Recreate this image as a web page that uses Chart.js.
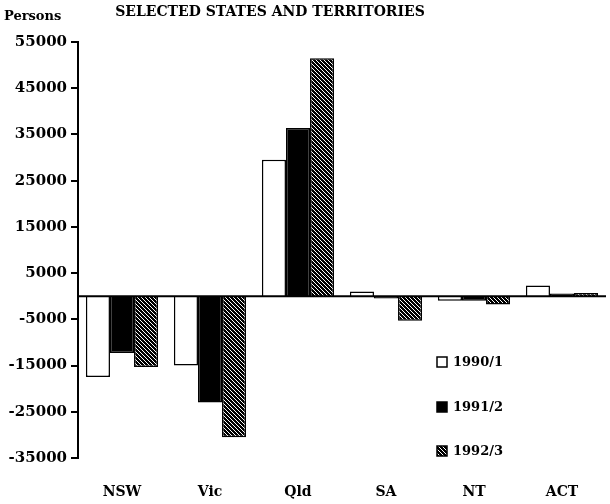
<!DOCTYPE html>
<html>
<head>
<meta charset="utf-8">
<script src="https://cdn.jsdelivr.net/npm/chart.js@4/dist/chart.umd.min.js"></script>
<style>
  html,body{margin:0;padding:0;background:#fff;}
  #wrap{width:610px;height:504px;position:relative;}
</style>
</head>
<body>
<div id="wrap"><canvas id="c" width="610" height="504"></canvas></div>
<script>
// data (persons)
const states = ["NSW","Vic","Qld","SA","NT","ACT"];
const seriesLabels = ["1990/1","1991/2","1992/3"];
const y1990 = [-17500,-15000,29500,1000,-1000,2300];
const y1991 = [-12300,-23000,36400,-500,-1000,600];
const y1992 = [-15300,-30500,51500,-5300,-1800,700];
const yTicks = [55000,45000,35000,25000,15000,5000,-5000,-15000,-25000,-35000];

const titleText = "SELECTED STATES AND TERRITORIES";
const unitText = "Persons";
const serif = "'DejaVu Serif', 'Liberation Serif', serif";

// hatch fill for 1992/3
function hatch(){
  const p=document.createElement("canvas"); p.width=4; p.height=4;
  const g=p.getContext("2d");
  g.fillStyle="#000"; g.fillRect(0,0,4,4);
  g.fillStyle="#fff";
  for(let i=0;i<4;i++){ g.fillRect(i,i,1,1); }
  return g.createPattern(p,"repeat");
}
const hatchFill = hatch();

// zero line + title + legend drawn on the canvas
const extras = {
  id:"extras",
  afterDatasetsDraw(chart){
    const {ctx, chartArea:a, scales:{y}} = chart;
    const y0 = y.getPixelForValue(0);
    ctx.save();
    ctx.strokeStyle="#000"; ctx.lineWidth=2;
    ctx.beginPath(); ctx.moveTo(a.left,y0); ctx.lineTo(a.right,y0); ctx.stroke();

    ctx.fillStyle="#000"; ctx.textBaseline="middle";
    ctx.font="bold 14px "+serif; ctx.textAlign="center";
    ctx.fillText(titleText, 270, 12);
    ctx.font="bold 13px "+serif; ctx.textAlign="left";
    ctx.fillText(unitText, 4, 17);

    // legend
    const lx=437, rows=[362,407,451];
    chart.data.datasets.forEach((ds,i)=>{
      const ry=rows[i];
      ctx.fillStyle=ds.backgroundColor;
      ctx.fillRect(lx,ry-5,10,10);
      ctx.strokeStyle="#000"; ctx.lineWidth=1.5;
      ctx.strokeRect(lx,ry-5,10,10);
      ctx.fillStyle="#000";
      ctx.font="bold 13px "+serif;
      ctx.fillText(ds.label, lx+16, ry+1);
    });
    ctx.restore();
  }
};

const mk = (label,data,fill)=>({label,data,backgroundColor:fill,borderColor:"#000",borderWidth:1.5});

new Chart(document.getElementById("c"),{
  type:"bar",
  data:{
    labels:states,
    datasets:[
      mk(seriesLabels[0],y1990,"#fff"),
      mk(seriesLabels[1],y1991,"#000"),
      mk(seriesLabels[2],y1992,hatchFill)
    ]
  },
  options:{
    responsive:false,
    animation:false,
    layout:{padding:{top:42,right:4,bottom:3,left:0}},
    datasets:{bar:{categoryPercentage:0.82,barPercentage:1}},
    plugins:{legend:{display:false},title:{display:false},tooltip:{enabled:false}},
    scales:{
      x:{
        afterFit:s=>{ s.height=43; },
        grid:{display:false,drawTicks:false},
        border:{display:false},
        ticks:{color:"#000",padding:26,maxRotation:0,font:{family:serif,weight:"bold",size:14}}
      },
      y:{
        min:-35000,max:55000,
        afterBuildTicks:s=>{ s.ticks = yTicks.map(v=>({value:v})); },
        afterFit:s=>{ s.width=78; },
        border:{display:true,color:"#000",width:2},
        grid:{drawOnChartArea:false,drawTicks:true,tickLength:7,tickColor:"#000",lineWidth:2},
        ticks:{color:"#000",padding:4,font:{family:serif,weight:"bold",size:15},callback:v=>String(v)}
      }
    }
  },
  plugins:[extras]
});
</script>
</body>
</html>
